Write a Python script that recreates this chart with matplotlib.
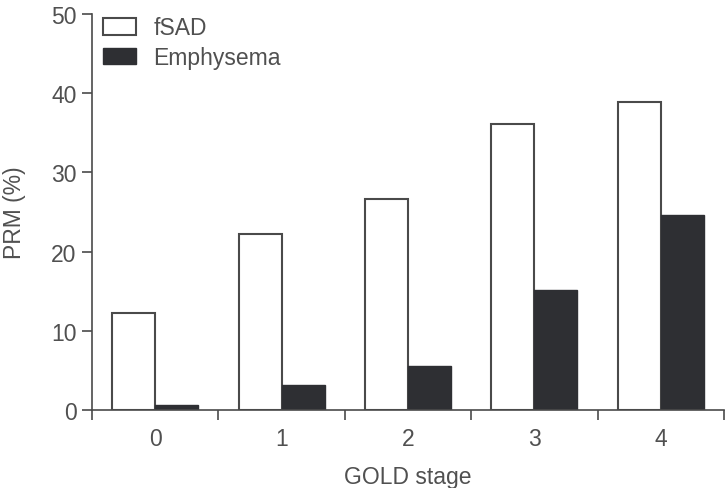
import matplotlib
matplotlib.use("Agg")
import matplotlib.pyplot as plt
import numpy as np

categories = ["0", "1", "2", "3", "4"]
fsad = [12.2, 22.2, 26.6, 36.1, 38.9]
emphysema = [0.6, 3.2, 5.5, 15.1, 24.6]
yticks = [0, 10, 20, 30, 40, 50]

plt.rcParams['font.family'] = ['Liberation Sans', 'DejaVu Sans']
txt = '#505050'
edge = '#4a4a4a'
dark = '#2e2f33'
fs = 16.5

fig = plt.figure(figsize=(7.28, 4.89), dpi=100)
ax = fig.add_axes([0.1264, 0.1595, 0.9945 - 0.1264, 0.9693 - 0.1595])

x = np.arange(len(categories))
w = 0.34
ax.bar(x - w / 2, fsad, width=w, facecolor='white', edgecolor=edge, linewidth=1.5, label='fSAD')
ax.bar(x + w / 2, emphysema, width=w, facecolor=dark, edgecolor=dark, linewidth=1.0, label='Emphysema')

ax.set_xlim(-0.5, len(categories) - 0.5)
ax.set_ylim(0, 50)
ax.set_yticks(yticks)
ax.set_xticks(np.arange(len(categories) + 1) - 0.5)
ax.set_xticklabels([])
ax.set_xticks(x, minor=True)
ax.set_xticklabels(categories, minor=True)
ax.tick_params(axis='x', which='minor', length=0, pad=12, labelsize=fs, colors=txt)
ax.tick_params(axis='x', which='major', length=7, width=1.2, color=edge)
ax.tick_params(axis='y', length=7, width=1.2, color=edge, labelsize=fs, labelcolor=txt, pad=4)

for s in ['top', 'right']:
    ax.spines[s].set_visible(False)
for s in ['left', 'bottom']:
    ax.spines[s].set_color(edge)
    ax.spines[s].set_linewidth(1.2)

ax.set_xlabel('GOLD stage', fontsize=fs, color=txt, labelpad=11)
ax.set_ylabel('PRM (%)', fontsize=fs, color=txt, labelpad=18)

leg = ax.legend(loc='upper left', bbox_to_anchor=(-0.008, 1.035), frameon=False, fontsize=fs,
                handlelength=1.45, handleheight=0.75, handletextpad=0.75, labelspacing=0.3,
                borderaxespad=0.3, labelcolor=txt)

fig.savefig('out.png', dpi=100)
